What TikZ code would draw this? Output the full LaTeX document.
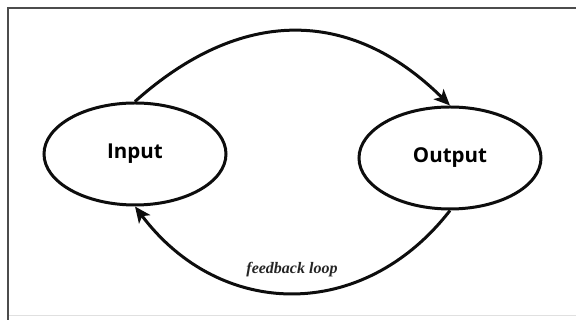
\documentclass[tikz,border=0pt]{standalone}
\usepackage{fontspec}
\setmainfont{Liberation Serif}
\newfontfamily\labelfont{Open Sans}
\usetikzlibrary{shapes.geometric,arrows.meta}
\definecolor{fbInk}{rgb}{0.05,0.05,0.05}
\definecolor{fbFrame}{rgb}{0.30,0.30,0.30}
\begin{document}
\begin{tikzpicture}[x=1pt, y=1pt, blob/.style={ellipse, draw=fbInk, line width=3pt, minimum width=182pt, minimum height=102pt, inner sep=0pt, font=\labelfont\bfseries\fontsize{20.5}{24}\selectfont}, flow/.style={-{Stealth[length=16pt, width=14pt, inset=4pt]}, line width=3pt, fbInk}, note/.style={font=\bfseries\itshape\fontsize{16}{19}\selectfont, text=fbInk!90}, frame/.style={line width=2pt, fbFrame}]
\useasboundingbox (0,0) rectangle (576,320);
\draw[frame] (7.5,0) -- (7.5,311.5) -- (576,311.5);
\draw[line width=0.8pt, black!12] (9,4.5) -- (576,4.5);
\node[blob] (in) at (135,166) {Input};
\node[blob] (out) at (450,162) {Output};
\draw[flow] (in.north) .. controls +(105,94) and +(-100,99) .. (out.north);
\draw[flow] (out.south) .. controls +(-87,-112) and +(85,-113) .. (in.south);
\node[note] (fb) at (292,50) {feedback loop};
\end{tikzpicture}
\end{document}
